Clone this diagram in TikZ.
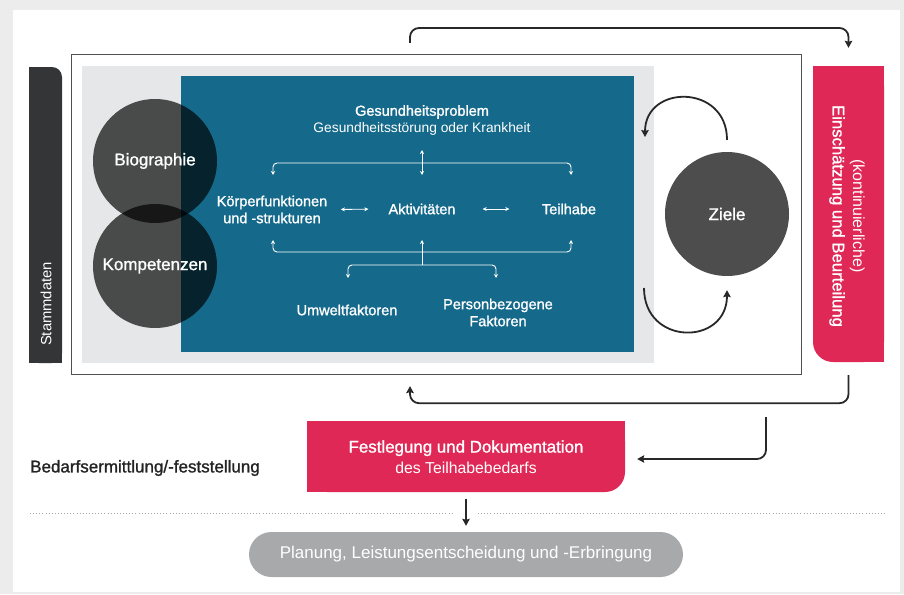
\documentclass[tikz,border=0pt]{standalone}
\usepackage{fontspec}
\setmainfont{Liberation Sans}
\newfontfamily\medfont[FakeBold=1.2]{Liberation Sans}
\usetikzlibrary{arrows.meta,calc}
\definecolor{bgframe}{RGB}{236,236,236}
\definecolor{panelgray}{RGB}{230,231,232}
\definecolor{icfblue}{RGB}{21,106,139}
\definecolor{accred}{RGB}{224,40,87}
\definecolor{bardark}{RGB}{51,53,54}
\definecolor{zielgray}{RGB}{77,77,77}
\definecolor{pillgray}{RGB}{167,169,171}
\definecolor{linedark}{RGB}{40,40,40}
\definecolor{txtdark}{RGB}{35,35,35}
\definecolor{boxline}{RGB}{80,80,80}
\begin{document}
\begin{tikzpicture}[x=1pt,y=-1pt,
  conn/.style={draw=linedark, line width=1.8pt, rounded corners=9pt, -{Stealth[length=7pt,width=7.5pt,inset=1pt]}},
  conncurve/.style={draw=linedark, line width=1.8pt, -{Stealth[length=7pt,width=7.5pt,inset=1pt]}},
  warrow/.style={draw=white, line width=0.9pt, rounded corners=4pt},
  wtip/.style={-{Stealth[length=4pt,width=4pt]}},
  wboth/.style={{Stealth[length=4pt,width=4pt]}-{Stealth[length=4pt,width=4pt]}},
  medtxt/.style={text=white, inner sep=0pt, align=center, font=\medfont\fontsize{14.5}{17}\selectfont},
  lighttxt/.style={text=white, inner sep=0pt, align=center, font=\fontsize{13.8}{17}\selectfont},
  circ/.style={circle, fill=black, fill opacity=0.68, text opacity=1, minimum size=124pt, inner sep=0pt, text=white, font=\medfont\fontsize{17}{20}\selectfont}
]
\useasboundingbox (0,0) rectangle (904,594);
% frame
\fill[bgframe] (0,0) rectangle (904,594);
\fill[white] (13,10) rectangle (900,592);

% outer box
\node (outer) [draw=boxline, line width=1.1pt, minimum width=730pt, minimum height=320pt, anchor=north west, inner sep=0pt] at (71,54) {};
% grey panel and blue ICF panel
\fill[panelgray] (82,66) rectangle (654,363);
\fill[icfblue] (181,76) rectangle (634,352);

% circles
\node[circ] (bio) at (155,161) {Biographie};
\node[circ] (komp) at (155,266) {Kompetenzen};

% Stammdaten bar
\fill[bardark, rounded corners=10pt] (29,67) rectangle (62,363);
\fill[bardark] (29,67) rectangle (48,363);
\fill[bardark] (29,95) rectangle (62,363);
\node[rotate=90, text=white, inner sep=0pt, font=\fontsize{14.8}{17}\selectfont] (stamm) at (46,304) {Stammdaten};

% right red bar
\fill[accred, rounded corners=20pt] (813,66) rectangle (884,362);
\fill[accred] (813,66) rectangle (884,330);
\fill[accred] (840,66) rectangle (884,362);
\node (einsch) [minimum width=71pt, minimum height=296pt, inner sep=0pt] at (848.5,214) {};
\node[rotate=-90, text=white, inner sep=0pt, align=center, font=\fontsize{16}{20.5}\selectfont] (einschtxt) at (847,216)
  {(kontinuierliche)\\{\medfont\fontsize{16.7}{20.5}\selectfont Einschätzung und Beurteilung}};

% Ziele
\node (ziele) [circle, fill=zielgray, minimum size=124pt, inner sep=0pt, text=white, font=\medfont\fontsize{17}{20}\selectfont] at (727,214) {Ziele};
\coordinate (zl1) at (645,137);
\coordinate (zl2) at (644,288);
\draw[conncurve] ([yshift=12pt]ziele.north) .. controls +(0,-56) and +(0,-53) .. (zl1);
\draw[conncurve] (zl2) .. controls +(0,58) and +(0,56) .. ([yshift=-14pt]ziele.south);

% ICF texts
\node[medtxt] (gp) at (422,112) {Gesundheitsproblem};
\node[lighttxt] (gp2) at (422,129) {Gesundheitsstörung oder Krankheit};
\node[medtxt] (kf) at (272,209.5) {Körperfunktionen\\und -strukturen};
\node[medtxt] (akt) at (422,209) {Aktivitäten};
\node[medtxt] (teil) at (569,209) {Teilhabe};
\node[medtxt] (umw) at (347,310) {Umweltfaktoren};
\node[medtxt] (pers) at (498,312.5) {Personbezogene\\Faktoren};

% ICF arrows
\coordinate (vt) at (422,150);
\coordinate (vb) at (422,175);
\coordinate (jt) at (422,163);
\coordinate (kft) at (273,175);
\coordinate (tet) at (571,175);
\draw[warrow, wboth] (vt) -- (vb);
\draw[warrow, wtip] (jt) -| (kft);
\draw[warrow, wtip] (jt) -| (tet);
\draw[warrow, wboth, shorten <=13.5pt, shorten >=20pt] (kf.east) -- (akt.west);
\draw[warrow, wboth, shorten <=27pt, shorten >=32.5pt] (akt.east) -- (teil.west);
\coordinate (jb) at (422,252);
\coordinate (jl) at (422,265);
\coordinate (kfb) at (273,240);
\coordinate (teb) at (571,240);
\coordinate (akb) at (422,240);
\coordinate (umt) at (348,278);
\coordinate (pet) at (496,278);
\draw[warrow, wtip] (jb) -| (kfb);
\draw[warrow, wtip] (jb) -| (teb);
\draw[warrow, wtip] (jl) -- (akb);
\draw[warrow, wtip] (jl) -| (umt);
\draw[warrow, wtip] (jl) -| (pet);

% top and bottom loop connectors
\coordinate (c1) at (410,43);
\draw[conn] (c1) -- ++(0,-15) -| ([yshift=18pt]einsch.north);
\draw[conn] ([yshift=-13pt]einsch.south) -- ++(0,28) -| ([xshift=339pt,yshift=-11pt]outer.south west);

% Festlegung box
\fill[accred, rounded corners=20pt] (307,421) rectangle (625,492);
\fill[accred] (307,421) rectangle (600,492);
\fill[accred] (307,421) rectangle (625,465);
\node (fest) [minimum width=318pt, minimum height=71pt, inner sep=0pt, align=center, text=white, font=\fontsize{15.8}{21}\selectfont] at (466,457)
  {{\medfont\fontsize{16.9}{21}\selectfont Festlegung und Dokumentation}\\des Teilhabebedarfs};
\coordinate (c2) at (766,417);
\draw[conn] (c2) |- ([xshift=12pt,yshift=-2pt]fest.east);

% Bedarf label
\node[anchor=west, inner sep=0pt, text=txtdark, font=\medfont\fontsize{17}{20}\selectfont] (bedarf) at (30,468) {Bedarfsermittlung/-feststellung};

% dotted separator
\draw[gray!70, line width=0.7pt, dash pattern=on 0.7pt off 2.4pt] (30,513) -- (452,513);
\draw[gray!70, line width=0.7pt, dash pattern=on 0.7pt off 2.4pt] (478,513) -- (887,513);

% Planung pill
\node (plan) [fill=pillgray, rounded corners=22.5pt, minimum width=434pt, minimum height=45pt, inner sep=0pt, text=white, font=\fontsize{17}{20}\selectfont] at (466,554.5) {Planung, Leistungsentscheidung und -Erbringung};
\draw[conn] ([yshift=-6pt]fest.south) -- ([yshift=6pt]plan.north);
\end{tikzpicture}
\end{document}
